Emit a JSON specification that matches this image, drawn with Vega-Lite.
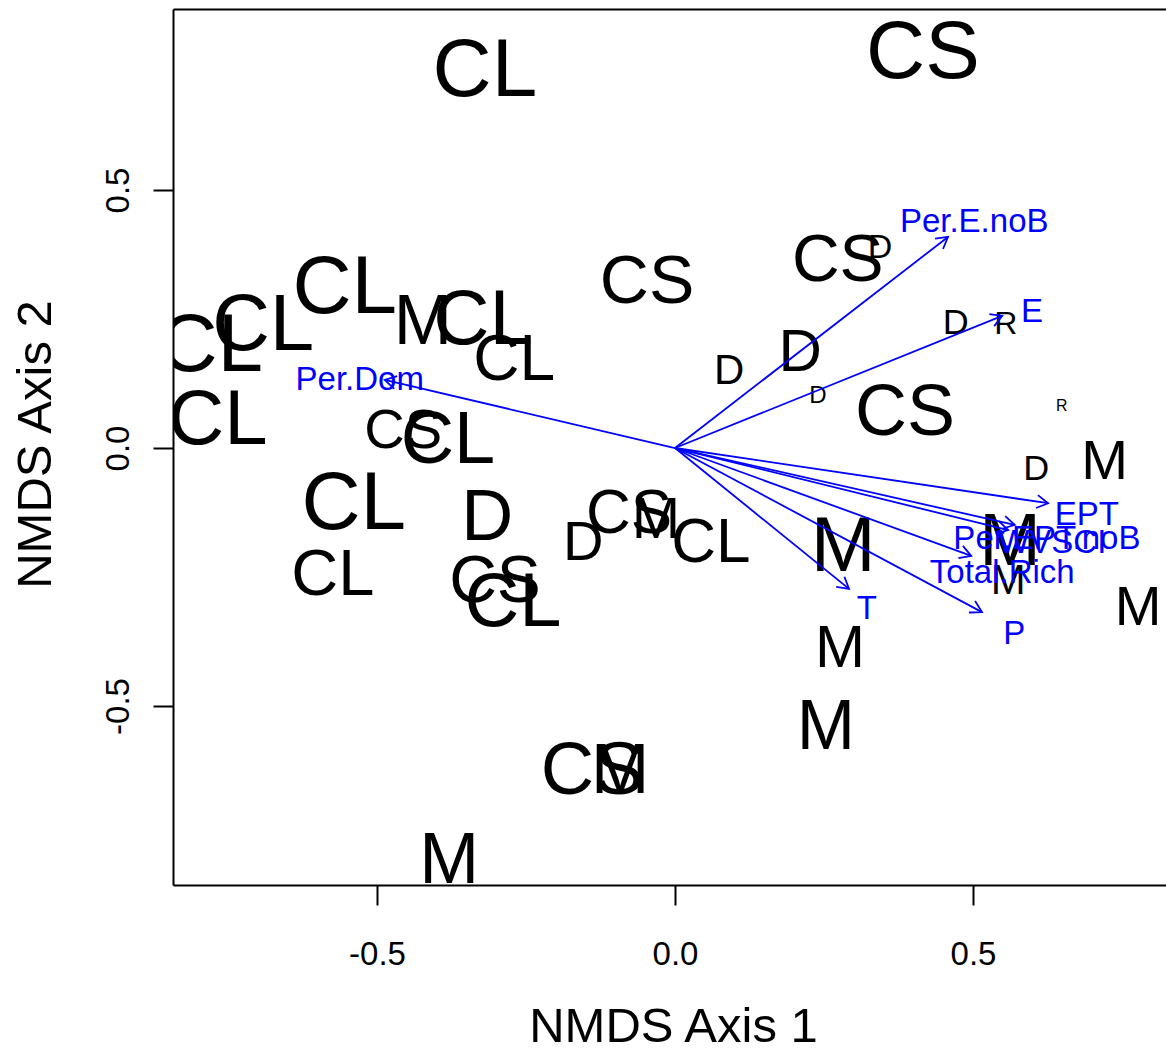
{
  "$schema": "https://vega.github.io/schema/vega-lite/v6.json",
  "autosize": {"type": "none"},
  "padding": {"left": 173, "top": 9, "right": 0, "bottom": 164},
  "width": 993,
  "height": 876,
  "background": "white",
  "config": {
    "view": {"stroke": null},
    "axis": {
      "grid": false,
      "domainColor": "black",
      "domainWidth": 2,
      "tickColor": "black",
      "tickWidth": 2,
      "tickSize": 20,
      "labelColor": "black",
      "labelFont": "Liberation Sans",
      "labelFontSize": 33,
      "labelFlush": false,
      "labelOverlap": false,
      "titleFont": "Liberation Sans",
      "titleFontSize": 49,
      "titleFontWeight": "normal",
      "titleColor": "black"
    }
  },
  "datasets": {
    "sites": [
      {"label": "CL", "NMDS1": -0.319, "NMDS2": 0.736, "cex": 2.48},
      {"label": "CS", "NMDS1": 0.416, "NMDS2": 0.771, "cex": 2.48},
      {"label": "CS", "NMDS1": -0.047, "NMDS2": 0.326, "cex": 2.06},
      {"label": "CS", "NMDS1": 0.273, "NMDS2": 0.368, "cex": 2.0},
      {"label": "D", "NMDS1": 0.344, "NMDS2": 0.393, "cex": 1.03},
      {"label": "CL", "NMDS1": -0.554, "NMDS2": 0.316, "cex": 2.48},
      {"label": "CL", "NMDS1": -0.691, "NMDS2": 0.242, "cex": 2.42},
      {"label": "CL", "NMDS1": -0.779, "NMDS2": 0.203, "cex": 2.48},
      {"label": "M", "NMDS1": -0.423, "NMDS2": 0.248, "cex": 2.12},
      {"label": "CL", "NMDS1": -0.322, "NMDS2": 0.252, "cex": 2.36},
      {"label": "CL", "NMDS1": -0.27, "NMDS2": 0.174, "cex": 1.94},
      {"label": "CL", "NMDS1": -0.767, "NMDS2": 0.058, "cex": 2.36},
      {"label": "D", "NMDS1": 0.091, "NMDS2": 0.155, "cex": 1.27},
      {"label": "D", "NMDS1": 0.21, "NMDS2": 0.19, "cex": 1.82},
      {"label": "D", "NMDS1": 0.24, "NMDS2": 0.107, "cex": 0.73},
      {"label": "CS", "NMDS1": 0.386, "NMDS2": 0.074, "cex": 2.18},
      {"label": "D", "NMDS1": 0.471, "NMDS2": 0.248, "cex": 1.09},
      {"label": "R", "NMDS1": 0.555, "NMDS2": 0.246, "cex": 0.97},
      {"label": "R", "NMDS1": 0.649, "NMDS2": 0.087, "cex": 0.48},
      {"label": "D", "NMDS1": 0.606, "NMDS2": -0.035, "cex": 1.09},
      {"label": "M", "NMDS1": 0.721, "NMDS2": -0.021, "cex": 1.7},
      {"label": "CS", "NMDS1": -0.456, "NMDS2": 0.039, "cex": 1.7},
      {"label": "CL", "NMDS1": -0.381, "NMDS2": 0.019, "cex": 2.24},
      {"label": "CL", "NMDS1": -0.539, "NMDS2": -0.103, "cex": 2.48},
      {"label": "CL", "NMDS1": -0.574, "NMDS2": -0.24, "cex": 1.97},
      {"label": "D", "NMDS1": -0.315, "NMDS2": -0.13, "cex": 2.18},
      {"label": "D", "NMDS1": -0.154, "NMDS2": -0.178, "cex": 1.7},
      {"label": "CS", "NMDS1": -0.077, "NMDS2": -0.122, "cex": 1.88},
      {"label": "M", "NMDS1": -0.032, "NMDS2": -0.136, "cex": 1.76},
      {"label": "CL", "NMDS1": 0.06, "NMDS2": -0.178, "cex": 1.88},
      {"label": "CS", "NMDS1": -0.302, "NMDS2": -0.254, "cex": 2.0},
      {"label": "CL", "NMDS1": -0.272, "NMDS2": -0.295, "cex": 2.3},
      {"label": "M", "NMDS1": 0.282, "NMDS2": -0.188, "cex": 2.36},
      {"label": "M", "NMDS1": 0.562, "NMDS2": -0.178, "cex": 2.24},
      {"label": "M", "NMDS1": 0.559, "NMDS2": -0.252, "cex": 1.27},
      {"label": "M", "NMDS1": 0.777, "NMDS2": -0.304, "cex": 1.7},
      {"label": "M", "NMDS1": 0.277, "NMDS2": -0.384, "cex": 1.82},
      {"label": "M", "NMDS1": 0.253, "NMDS2": -0.537, "cex": 2.12},
      {"label": "CS", "NMDS1": -0.139, "NMDS2": -0.622, "cex": 2.24},
      {"label": "M", "NMDS1": -0.092, "NMDS2": -0.622, "cex": 2.12},
      {"label": "M", "NMDS1": -0.379, "NMDS2": -0.795, "cex": 2.18}
    ],
    "vectors": [
      {"var": "Per.Dom", "NMDS1": -0.487, "NMDS2": 0.132, "lx": -0.529, "ly": 0.136},
      {"var": "Per.E.noB", "NMDS1": 0.458, "NMDS2": 0.409, "lx": 0.502, "ly": 0.442},
      {"var": "E", "NMDS1": 0.549, "NMDS2": 0.256, "lx": 0.599, "ly": 0.267},
      {"var": "EPT", "NMDS1": 0.626, "NMDS2": -0.107, "lx": 0.691, "ly": -0.126},
      {"var": "Per.EPT.noB", "NMDS1": 0.57, "NMDS2": -0.149, "lx": 0.624, "ly": -0.172},
      {"var": "WVSCI", "NMDS1": 0.559, "NMDS2": -0.159, "lx": 0.633, "ly": -0.18},
      {"var": "Total.Rich", "NMDS1": 0.497, "NMDS2": -0.209, "lx": 0.549, "ly": -0.238},
      {"var": "P", "NMDS1": 0.515, "NMDS2": -0.318, "lx": 0.569, "ly": -0.357},
      {"var": "T", "NMDS1": 0.292, "NMDS2": -0.273, "lx": 0.322, "ly": -0.308}
    ]
  },
  "layer": [
    {
      "data": {"name": "sites"},
      "mark": {"type": "text", "font": "Liberation Sans", "color": "black", "baseline": "middle", "align": "center", "dy": 3, "clip": true},
      "encoding": {
        "x": {"field": "NMDS1", "type": "quantitative",
              "scale": {"domain": [-0.8423, 0.8238], "nice": false, "zero": false},
              "axis": {"orient": "bottom", "values": [-0.5, 0, 0.5], "format": ".1f", "labelExpr": "replace(datum.label, '\u2212', '-')", "labelPadding": 33, "labelBaseline": "top",
                       "title": "NMDS Axis 1", "titleX": 500, "titleY": 156, "titleBaseline": "alphabetic", "titleAlign": "center", "titleAngle": 0}},
        "y": {"field": "NMDS2", "type": "quantitative",
              "scale": {"domain": [-0.8469, 0.8508], "nice": false, "zero": false},
              "axis": {"orient": "left", "values": [-0.5, 0, 0.5], "format": ".1f", "labelExpr": "replace(datum.label, '\u2212', '-')", "labelAngle": 270, "labelAlign": "center", "labelBaseline": "bottom", "labelPadding": 18,
                       "title": "NMDS Axis 2", "titleAngle": 270, "titleX": -123, "titleY": 435, "titleBaseline": "alphabetic", "titleAlign": "center"}},
        "text": {"field": "label"},
        "size": {"field": "cex", "type": "quantitative", "scale": {"type": "linear", "domain": [0, 3], "range": [0, 99]}, "legend": null}
      }
    },
    {
      "data": {"name": "vectors"},
      "mark": {"type": "rule", "color": "#0000FF", "strokeWidth": 1.8},
      "encoding": {
        "x": {"field": "NMDS1", "type": "quantitative",
              "scale": {"domain": [-0.8423, 0.8238], "nice": false, "zero": false},
              "axis": {"orient": "top", "labels": false, "ticks": false, "title": null, "domain": true}},
        "x2": {"datum": 0},
        "y": {"field": "NMDS2", "type": "quantitative",
              "scale": {"domain": [-0.8469, 0.8508], "nice": false, "zero": false}},
        "y2": {"datum": 0}
      }
    },
    {
      "data": {"name": "vectors"},
      "transform": [{"calculate": "atan2(datum.NMDS1*596, datum.NMDS2*516)*180/PI", "as": "ang"}],
      "mark": {"type": "point", "shape": "M-0.5,0.866L0,0L0.5,0.866", "filled": false, "stroke": "#0000FF", "strokeWidth": 1.8, "size": 676, "opacity": 1},
      "encoding": {
        "x": {"field": "NMDS1", "type": "quantitative",
              "scale": {"domain": [-0.8423, 0.8238], "nice": false, "zero": false}, "axis": null},
        "y": {"field": "NMDS2", "type": "quantitative",
              "scale": {"domain": [-0.8469, 0.8508], "nice": false, "zero": false}},
        "angle": {"field": "ang", "type": "quantitative", "scale": null}
      }
    },
    {
      "data": {"name": "vectors"},
      "mark": {"type": "text", "font": "Liberation Sans", "fontSize": 33, "color": "#0000FF", "baseline": "middle", "align": "center", "dy": 2, "clip": true},
      "encoding": {
        "x": {"field": "lx", "type": "quantitative",
              "scale": {"domain": [-0.8423, 0.8238], "nice": false, "zero": false}, "axis": null},
        "y": {"field": "ly", "type": "quantitative",
              "scale": {"domain": [-0.8469, 0.8508], "nice": false, "zero": false}},
        "text": {"field": "var"}
      }
    }
  ],
  "resolve": {"axis": {"x": "independent"}}
}
